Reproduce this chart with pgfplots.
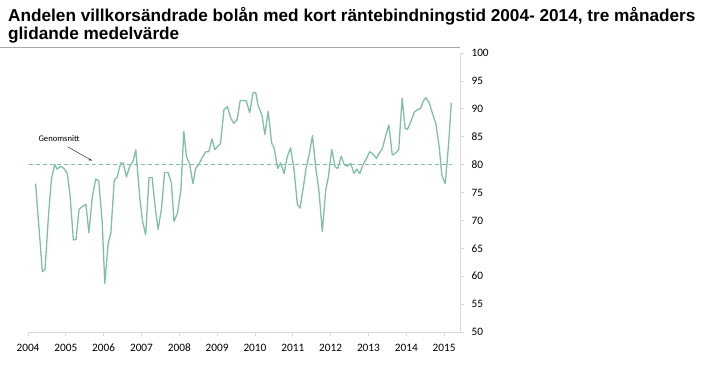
\documentclass[border=0pt]{standalone}
\usepackage{pgfplots}
\pgfplotsset{compat=1.18}
\usepackage{fontspec}
\setmainfont{Carlito}
\newfontfamily\titlefont{Liberation Sans}
\usetikzlibrary{arrows.meta}
\definecolor{linegreen}{RGB}{128,192,162}
\definecolor{axgray}{RGB}{217,217,217}
\begin{document}
\begin{tikzpicture}[x=1pt,y=1pt]
\useasboundingbox (0,0) rectangle (702,376);
\node[anchor=base west,inner sep=0pt,font=\titlefont\bfseries\fontsize{17.2}{19}\selectfont] at (8,355) {Andelen villkorsändrade bolån med kort räntebindningstid 2004- 2014, tre månaders};
\node[anchor=base west,inner sep=0pt,font=\titlefont\bfseries\fontsize{17.2}{19}\selectfont] at (8,337) {glidande medelvärde};
\draw[gray!70, line width=0.8pt] (0,329) -- (460,329);
\begin{axis}[
  at={(28pt,44pt)}, anchor=south west,
  scale only axis, width=432pt, height=279pt,
  xmin=2004, xmax=2015.42, ymin=50, ymax=100,
  axis x line*=bottom, axis y line*=right,
  axis line style={axgray, line width=0.8pt},
  xtick={2004,2005,2006,2007,2008,2009,2010,2011,2012,2013,2014,2015},
  xticklabels={2004,2005,2006,2007,2008,2009,2010,2011,2012,2013,2014,2015},
  ytick={50,55,...,100},
  /pgf/number format/1000 sep={},
  /pgf/number format/fixed,
  /pgf/number format/assume math mode=true,
  tick style={axgray, line width=0.8pt},
  tick align=outside, major tick length=4pt,
  ticklabel style={font=\fontsize{11.3}{13}\selectfont, text=black},
  yticklabel style={anchor=west, xshift=4pt},
  xticklabel style={anchor=base, yshift=-15pt},
  clip=false,
]
\addplot[linegreen, dashed, dash pattern=on 4pt off 3pt, line width=0.9pt] coordinates {(2004.03,80) (2015.2,80)};
\addplot[linegreen, line width=1.3pt, line join=round] coordinates {
(2004.20,76.6) (2004.38,60.8) (2004.45,61.2) (2004.54,70.7) (2004.62,77.5) (2004.71,80.0) (2004.77,79.2) (2004.86,79.7) (2004.95,79.3)
(2005.04,78.4) (2005.11,74.6) (2005.20,66.5) (2005.27,66.6) (2005.35,72.0) (2005.44,72.5) (2005.53,72.9) (2005.61,67.8) (2005.70,74.2) (2005.79,77.4) (2005.87,77.1) (2005.96,69.8)
(2006.03,58.7) (2006.12,65.9) (2006.19,67.7) (2006.28,77.2) (2006.36,77.8) (2006.45,80.3) (2006.52,80.3) (2006.60,77.8) (2006.69,79.7) (2006.78,80.7) (2006.85,82.6) (2006.96,73.7)
(2007.03,69.8) (2007.11,67.4) (2007.20,77.7) (2007.28,77.7) (2007.37,71.9) (2007.44,68.4) (2007.53,72.2) (2007.61,78.6) (2007.70,78.6) (2007.79,76.8) (2007.86,69.8) (2007.95,71.3)
(2008.04,75.4) (2008.12,85.9) (2008.19,81.4) (2008.27,80.2) (2008.36,76.6) (2008.43,79.3) (2008.52,80.1) (2008.61,81.3) (2008.70,82.3) (2008.78,82.3) (2008.86,84.6) (2008.94,82.7)
(2009.02,83.3) (2009.09,83.8) (2009.18,89.8) (2009.27,90.4) (2009.36,88.3) (2009.44,87.4) (2009.53,88.1) (2009.61,91.5) (2009.70,91.5) (2009.77,91.4) (2009.86,89.3) (2009.95,92.9)
(2010.02,92.9) (2010.08,90.7) (2010.13,89.8) (2010.19,88.7) (2010.26,85.4) (2010.35,89.5) (2010.44,83.9) (2010.51,82.9) (2010.60,79.3) (2010.68,80.3) (2010.77,78.4) (2010.85,81.3) (2010.94,83.0)
(2011.03,79.3) (2011.12,72.9) (2011.19,72.2) (2011.28,76.0) (2011.35,79.3) (2011.44,82.0) (2011.52,85.2) (2011.61,79.3) (2011.69,75.4) (2011.78,68.0) (2011.87,75.4) (2011.94,77.8)
(2012.03,82.7) (2012.12,79.6) (2012.19,79.3) (2012.28,81.5) (2012.36,80.0) (2012.44,79.7) (2012.53,80.2) (2012.62,78.4) (2012.69,79.2) (2012.77,78.4) (2012.86,80.0) (2012.95,81.1)
(2013.03,82.3) (2013.12,81.9) (2013.21,81.1) (2013.28,82.0) (2013.37,82.9) (2013.46,85.3) (2013.54,87.1) (2013.63,81.7) (2013.72,82.1) (2013.80,82.7) (2013.89,91.9) (2013.97,86.5)
(2014.03,86.3) (2014.12,87.7) (2014.21,89.4) (2014.29,89.8) (2014.38,90.1) (2014.45,91.4) (2014.52,92.0) (2014.61,91.0) (2014.69,89.2) (2014.78,87.4) (2014.87,83.2) (2014.94,78.1)
(2015.03,76.6) (2015.12,83.8) (2015.19,91.1)
};
\node[anchor=center,inner sep=0pt,font=\fontsize{8.6}{10}\selectfont] at (axis cs:2004.82,84.6) {Genomsnitt};
\draw[-{Stealth[length=3.5pt,width=2.5pt]}, black!80, line width=0.5pt] (axis cs:2005.05,83.2) -- (axis cs:2005.69,80.7);
\end{axis}
\end{tikzpicture}
\end{document}
